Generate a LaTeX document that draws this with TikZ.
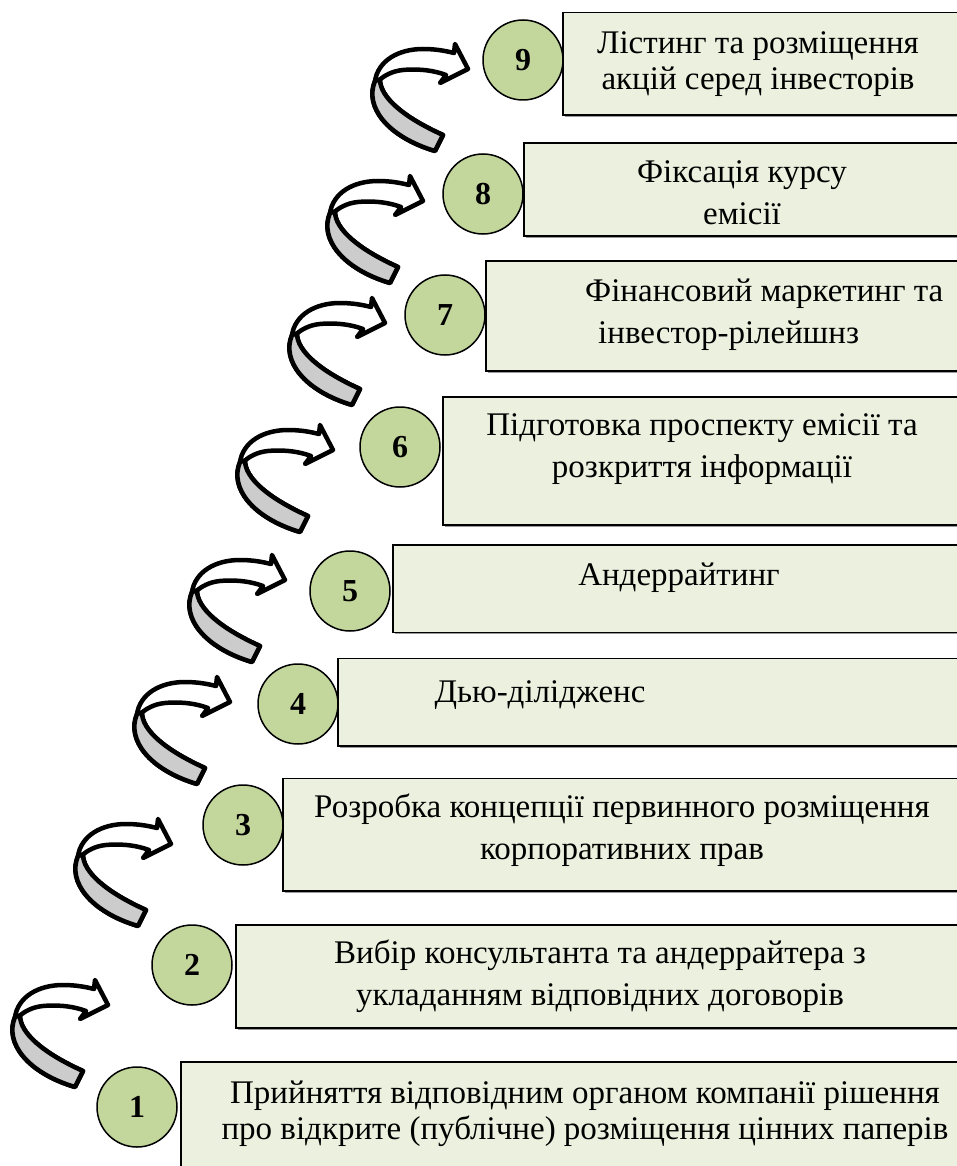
\documentclass[tikz,border=0pt]{standalone}
\usepackage{fontspec}
\setmainfont{Liberation Serif}
\definecolor{boxgreen}{HTML}{EBF1DE}
\definecolor{circlegreen}{HTML}{C3D69B}
\definecolor{arrowgray}{HTML}{CCCCCC}
\tikzset{
  stagebox/.style={fill=boxgreen,draw=black,line width=1.6pt},
  stageshadow/.style={fill=black!40},
  stagenum/.style={circle,draw=black,line width=1.5pt,fill=circlegreen,minimum size=80pt,inner sep=0pt,font=\fontsize{32}{36}\selectfont\bfseries},
  stagetext/.style={align=center,font=\fontsize{33}{42}\selectfont,inner sep=0pt},
  tightlines/.style={font=\fontsize{33}{36}\selectfont},
  curlarrow/.style={line width=4.5pt,line join=round,draw=black},
}

\begin{document}
\begin{tikzpicture}[x=1pt,y=-1pt]
  \useasboundingbox (0,0) rectangle (957,1166);
  \clip (0,0) rectangle (957,1166);
  % stage boxes, running off the right edge
  \foreach \l/\t/\b in {180.7/1061.7/1180,236/925/1028,282.7/778.3/891,337.7/658.3/746,
                        392.7/545/632.3,442.7/397/525,485.7/261/371,524/143.3/236,562.7/12.7/115}{
    \fill[stageshadow] (\l+2,\t+2) rectangle (990,\b+2);
    \draw[stagebox] (\l,\t) rectangle (980,\b);
  }
  % curled arrows, placed at their tips
  \foreach \x/\y in {108/1005,171/844,230/702,285/580,333/450,385/323,423/201,468/69}{
    \begin{scope}[shift={(\x,\y)}]
      \filldraw[curlarrow,fill=white] (-33,82) .. controls (-80,68) and (-104,38) .. (-93,12)
        .. controls (-90,-8) and (-70,-20) .. (-45,-20) .. controls (-32,-20) and (-22,-18) .. (-14,-16)
        -- (-13,-25) -- (0,0) -- (-28,14) -- (-22,6)
        .. controls (-38,0) and (-55,0) .. (-65,1) .. controls (-76,2) and (-84,7) .. (-88,10.5)
        .. controls (-88,28) and (-65,48) .. (-25,66) -- cycle;
      \filldraw[curlarrow,fill=arrowgray] (-93,12) .. controls (-104,38) and (-80,68) .. (-33,82)
        -- (-25,66) .. controls (-65,48) and (-88,28) .. (-88,10.5) -- cycle;
    \end{scope}
  }
  % numbered circles
  \foreach \n/\x/\y in {1/137/1107,2/192/965,3/243/825,4/298/704,5/350/591,
                        6/400/447,7/445/315,8/483/194,9/523/60}{
    \node[stagenum] (c\n) at (\x,\y) {\n};
  }
  % stage texts
  \node[stagetext,tightlines] (t1) at (585,1114) {Прийняття відповідним органом компанії рішення\\про відкрите (публічне) розміщення цінних паперів};
  \node[stagetext] (t2) at (600,976) {Вибір консультанта та андеррайтера з\\укладанням відповідних договорів};
  \node[stagetext] (t3) at (622,830) {Розробка концепції первинного розміщення\\корпоративних прав};
  \node[stagetext] (t4) at (540,695) {Дью-ділідженс};
  \node[stagetext] (t5) at (679,578) {Андеррайтинг};
  \node[stagetext] (t6) at (702,449) {Підготовка проспекту емісії та\\розкриття інформації};
  \node[stagetext,align=left,anchor=west] (t7) at (585,315) {Фінансовий маркетинг та\\\hspace*{13pt}інвестор-рілейшнз};
  \node[stagetext] (t8) at (742,193) {Фіксація курсу\\емісії};
  \node[stagetext,tightlines] (t9) at (758,64) {Лістинг та розміщення\\акцій серед інвесторів};
\end{tikzpicture}
\end{document}
